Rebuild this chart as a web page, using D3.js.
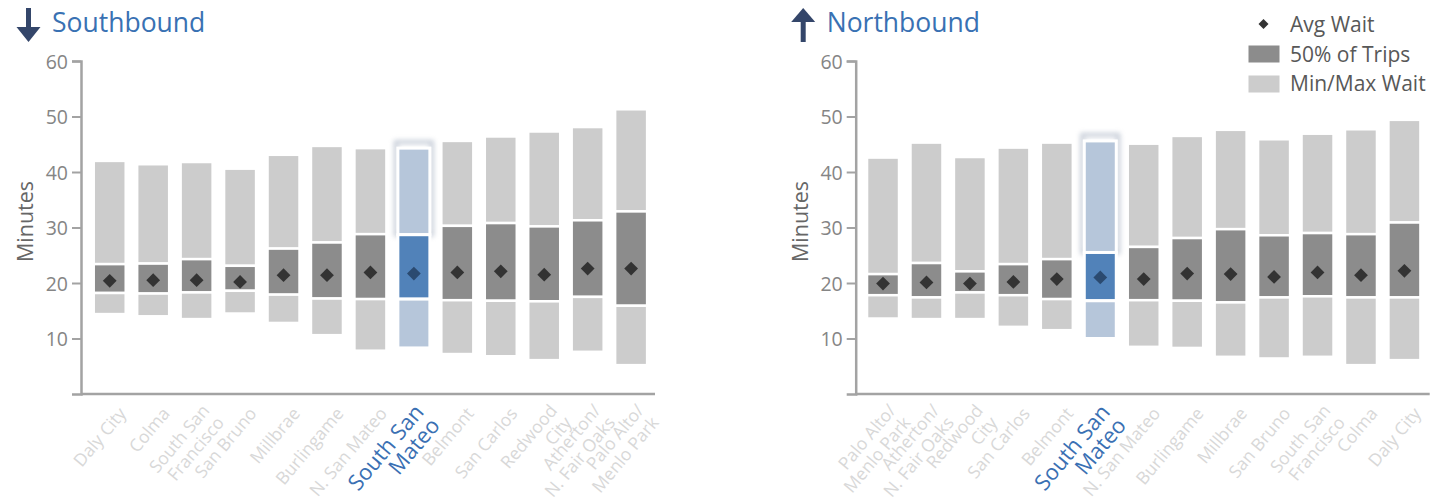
<!DOCTYPE html>
<html>
<head>
<meta charset="utf-8">
<script src="https://cdn.jsdelivr.net/npm/d3@7"></script>
<style>
  html, body { margin: 0; padding: 0; background: #fff; }
  svg { display: block; font-family: "Open Sans", "Noto Sans", sans-serif; }
</style>
</head>
<body>
<svg id="chart" width="1432" height="502"></svg>
<script>
// ---------- DATA ----------
const southStations = ["Daly City", "Colma", "South San\nFrancisco", "San Bruno", "Millbrae", "Burlingame",
  "N. San Mateo", "South San\nMateo", "Belmont", "San Carlos", "Redwood\nCity", "Atherton/\nN. Fair Oaks", "Palo Alto/\nMenlo Park"];
const southMax = [42.0, 41.4, 41.8, 40.6, 43.1, 44.7, 44.3, 44.3, 45.6, 46.4, 47.3, 48.1, 51.3];
const southQ3  = [23.4, 23.5, 24.3, 23.1, 26.2, 27.3, 28.8, 28.7, 30.3, 30.8, 30.2, 31.3, 32.9];
const southQ1  = [18.2, 18.1, 18.3, 18.6, 17.9, 17.2, 17.1, 17.1, 16.9, 16.8, 16.7, 17.5, 15.9];
const southMin = [14.4, 14.0, 13.5, 14.5, 12.8, 10.6, 7.8, 8.3, 7.2, 6.8, 6.1, 7.6, 5.2];
const southAvg = [20.4, 20.5, 20.5, 20.2, 21.4, 21.4, 21.9, 21.7, 21.9, 22.1, 21.5, 22.6, 22.6];

const northStations = ["Palo Alto/\nMenlo Park", "Atherton/\nN. Fair Oaks", "Redwood\nCity", "San Carlos", "Belmont",
  "South San\nMateo", "N. San Mateo", "Burlingame", "Millbrae", "San Bruno", "South San\nFrancisco", "Colma", "Daly City"];
const northMax = [42.6, 45.3, 42.7, 44.4, 45.3, 45.6, 45.1, 46.5, 47.6, 45.9, 46.9, 47.7, 49.4];
const northQ3  = [21.6, 23.6, 22.1, 23.4, 24.3, 25.5, 26.5, 28.1, 29.7, 28.6, 29.0, 28.8, 30.9];
const northQ1  = [17.8, 17.4, 18.3, 17.8, 17.1, 16.8, 16.9, 16.8, 16.5, 17.4, 17.6, 17.4, 17.4];
const northMin = [13.6, 13.5, 13.5, 12.1, 11.5, 10.0, 8.5, 8.3, 6.7, 6.4, 6.7, 5.2, 6.1];
const northAvg = [19.9, 20.1, 19.9, 20.2, 20.7, 21.0, 20.7, 21.7, 21.6, 21.1, 21.9, 21.4, 22.2];

const highlightStation = "South San\nMateo";
const yTicks = [10, 20, 30, 40, 50, 60];
const yLabel = "Minutes";
const legendLabels = ["Avg Wait", "50% of Trips", "Min/Max Wait"];

// ---------- STYLE ----------
const C = {
  light: "#cccccc", dark: "#8c8c8c", diamond: "#333333",
  hLight: "#b6c6da", hDark: "#5182b9", hDiamond: "#2b4a70",
  axis: "#a3a3a3", tick: "#858585", title: "#3971b3", arrow: "#34466a",
  label: "#d8d8d8", hLabel: "#3a70b3", legend: "#585858"
};

const svg = d3.select("#chart");
const defs = svg.append("defs");
const glow = defs.append("filter").attr("id", "glow").attr("x", "-50%").attr("y", "-50%").attr("width", "200%").attr("height", "200%");
glow.append("feGaussianBlur").attr("stdDeviation", 2.4);

const y = d3.scaleLinear().domain([0, 60]).range([394, 61]);

function panel(opts) {
  const { axisX, bandStart, stations, mx, q3, q1, mn, avg, title, dir } = opts;
  const g = svg.append("g");
  const idx = d3.range(stations.length);
  const x = d3.scaleBand().domain(idx).range([bandStart, bandStart + 13 * 43.45])
    .paddingInner(0.2635).paddingOuter(0.2635 / 2);

  // y axis
  const ya = g.append("g").attr("transform", `translate(${axisX},0)`)
    .call(d3.axisLeft(y).tickValues(yTicks).tickSize(9).tickSizeOuter(9).tickPadding(4));
  ya.select(".domain").attr("stroke", C.axis).attr("stroke-width", 2.5);
  ya.selectAll(".tick line").attr("stroke", C.axis).attr("stroke-width", 2);
  ya.selectAll(".tick text").attr("fill", C.tick).attr("font-size", 19.5).attr("font-family", "Open Sans").attr("dy", "0.36em");

  // x axis line
  g.append("line").attr("x1", axisX).attr("x2", axisX + 574).attr("y1", y(0)).attr("y2", y(0))
    .attr("stroke", C.axis).attr("stroke-width", 2.5);

  // y label
  g.append("text").attr("transform", `translate(${axisX - 48},${(y(0) + y(60)) / 2 - 6}) rotate(-90)`)
    .attr("text-anchor", "middle").attr("font-size", 21.5).attr("fill", "#666").text(yLabel);

  // highlight glow
  idx.forEach(i => {
    if (stations[i] !== highlightStation) return;
    g.append("rect").attr("x", x(i) - 2).attr("y", y(mx[i]) - 6)
      .attr("width", x.bandwidth() + 4).attr("height", y(q3[i]) - y(mx[i]) + 6)
      .attr("fill", "none").attr("stroke", "#8e9bb0").attr("stroke-width", 4)
      .attr("opacity", 0.5).attr("filter", "url(#glow)");
  });

  // bars
  idx.forEach(i => {
    const hl = stations[i] === highlightStation;
    const segs = [
      [mx[i], q3[i], hl ? C.hLight : C.light],
      [q3[i], q1[i], hl ? C.hDark : C.dark],
      [q1[i], mn[i], hl ? C.hLight : C.light]
    ];
    segs.forEach(s => {
      g.append("rect").attr("x", x(i)).attr("width", x.bandwidth())
        .attr("y", y(s[0])).attr("height", y(s[1]) - y(s[0]))
        .attr("fill", s[2]).attr("stroke", "#fff").attr("stroke-width", hl ? 3 : 2.5);
    });
    g.append("path").attr("d", d3.symbol(d3.symbolSquare, 95)())
      .attr("transform", `translate(${x(i) + x.bandwidth() / 2},${y(avg[i])}) rotate(45)`)
      .attr("fill", hl ? C.hDiamond : C.diamond);
  });

  // x labels
  idx.forEach(i => {
    const hl = stations[i] === highlightStation;
    const lines = stations[i].split("\n");
    const fs = hl ? 22 : 17.5;
    const lh = hl ? 21 : 19;
    const cx = x(i) + x.bandwidth() / 2;
    const ox = hl ? 15 : 17.5, oy = hl ? 416 : 414;
    const t = g.append("text")
      .attr("transform", `translate(${cx + ox},${oy}) rotate(-50)`)
      .attr("text-anchor", "end").attr("font-size", fs)
      .attr("fill", hl ? C.hLabel : C.label);
    lines.forEach((ln, k) => {
      const off = lines.length > 1 ? k - 0.25 : 0;
      t.append("tspan").attr("x", 0).attr("y", off * lh).text(ln);
    });
  });

  // title with arrow
  const ax = axisX - 52.5;
  if (dir === "down") {
    g.append("rect").attr("x", ax - 2.5).attr("y", 8).attr("width", 5).attr("height", 20).attr("fill", C.arrow);
    g.append("path").attr("d", `M${ax - 12},27 L${ax + 12},27 L${ax},42 Z`).attr("fill", C.arrow);
  } else {
    g.append("rect").attr("x", ax - 2.5).attr("y", 21).attr("width", 5).attr("height", 21).attr("fill", C.arrow);
    g.append("path").attr("d", `M${ax - 12},22 L${ax + 12},22 L${ax},8 Z`).attr("fill", C.arrow);
  }
  g.append("text").attr("x", axisX - 29).attr("y", 32).attr("font-size", 26.5)
    .attr("fill", C.title).text(title);
}

panel({ axisX: 81, bandStart: 88, stations: southStations, mx: southMax, q3: southQ3, q1: southQ1,
  mn: southMin, avg: southAvg, title: "Southbound", dir: "down" });
panel({ axisX: 855.7, bandStart: 861.3, stations: northStations, mx: northMax, q3: northQ3, q1: northQ1,
  mn: northMin, avg: northAvg, title: "Northbound", dir: "up" });

// legend
const lg = svg.append("g");
lg.append("path").attr("d", d3.symbol(d3.symbolSquare, 50)())
  .attr("transform", "translate(1263.5,24) rotate(45)").attr("fill", C.diamond);
lg.append("rect").attr("x", 1248.5).attr("y", 45.5).attr("width", 31).attr("height", 17).attr("fill", C.dark);
lg.append("rect").attr("x", 1248.5).attr("y", 75.5).attr("width", 31).attr("height", 17).attr("fill", C.light);
[31.7, 61.7, 90.7].forEach((by, k) => {
  lg.append("text").attr("x", 1290).attr("y", by).attr("font-size", 21).attr("fill", C.legend).text(legendLabels[k]);
});
</script>
</body>
</html>
